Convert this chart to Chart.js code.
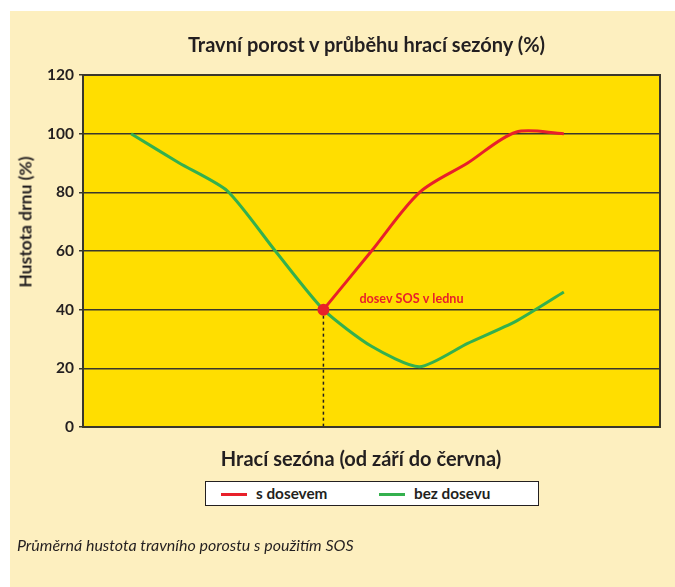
<!DOCTYPE html>
<html>
<head>
<meta charset="utf-8">
<script src="https://cdn.jsdelivr.net/npm/chart.js@4.4.1/dist/chart.umd.min.js"></script>
<style>
  html, body { margin: 0; padding: 0; background: #fff; }
  body { width: 675px; height: 587px; position: relative; overflow: hidden; font-family: Lato, "Open Sans", sans-serif; color: #231f20; }
  #panel { position: absolute; left: 10px; top: 11px; right: 0; bottom: 0; background: #fdefbf; }
  #chart { position: absolute; left: 0; top: 0; }
  .txt { position: absolute; white-space: nowrap; line-height: 1.2; }
  #title { left: 0; width: 733px; top: 32px; text-align: center; font-weight: bold; font-size: 20px; }
  #ytitle { left: 25px; top: 222px; font-weight: bold; font-size: 17.5px; transform: translate(-50%, -50%) rotate(-90deg); }
  #xtitle { left: 0; width: 722px; top: 446px; text-align: center; font-weight: bold; font-size: 20px; }
  #legend { position: absolute; left: 205px; top: 481px; width: 332px; height: 23px; background: #fff; border: 1px solid #231f20; }
  .item { position: absolute; top: 2px; font-weight: bold; font-size: 15.3px; line-height: 1.2; }
  .item i { display: inline-block; width: 26px; height: 3px; vertical-align: middle; margin-right: 9px; position: relative; top: -1px; }
  #caption { left: 17px; top: 535px; font-style: italic; font-size: 16px; }
</style>
</head>
<body>
<div id="panel"></div>
<canvas id="chart" width="675" height="587"></canvas>
<div class="txt" id="title">Travní porost v průběhu hrací sezóny (%)</div>
<div class="txt" id="ytitle">Hustota drnu (%)</div>
<div class="txt" id="xtitle">Hrací sezóna (od září do června)</div>
<div id="legend"></div>
<div class="txt" id="caption">Průměrná hustota travního porostu s použitím SOS</div>
<script>
// months of the season, September to June
const months = ["září", "říjen", "listopad", "prosinec", "leden", "únor", "březen", "duben", "květen", "červen"];
const sDosevem = [null, null, null, null, 40, 60, 80, 90, 100.5, 100];
const bezDosevu = [100, 90, 80.5, 60, 40, 27.5, 20.5, 28.5, 36, 46];
const yTicks = [0, 20, 40, 60, 80, 100, 120];
const seedMonth = 4; // leden
const seedLabel = "dosev SOS v lednu";

const RED = "#e8202a";
const GREEN = "#34b04e";
const INK = "#231f20";

const toPoints = (vals) => months.map((m, i) => ({ x: i, y: vals[i] }));

const decor = {
  id: "decor",
  beforeDraw(chart) {
    const { ctx, chartArea: a } = chart;
    ctx.save();
    ctx.fillStyle = "#ffde00";
    ctx.fillRect(a.left, a.top, a.right - a.left, a.bottom - a.top);
    ctx.restore();
  },
  beforeDatasetsDraw(chart) {
    const { ctx, chartArea: a, scales } = chart;
    const x = scales.x.getPixelForValue(seedMonth);
    const y = scales.y.getPixelForValue(sDosevem[seedMonth]);
    ctx.save();
    ctx.strokeStyle = INK;
    ctx.lineWidth = 1.5;
    ctx.setLineDash([3, 3]);
    ctx.beginPath();
    ctx.moveTo(x, y);
    ctx.lineTo(x, a.bottom);
    ctx.stroke();
    ctx.restore();
  },
  afterDraw(chart) {
    const { ctx, chartArea: a, scales } = chart;
    ctx.save();
    ctx.strokeStyle = "#3a372c";
    ctx.lineWidth = 2;
    ctx.strokeRect(a.left, a.top, a.right - a.left, a.bottom - a.top);
    const x = scales.x.getPixelForValue(seedMonth);
    const y = scales.y.getPixelForValue(sDosevem[seedMonth]);
    ctx.fillStyle = RED;
    ctx.font = "bold 12.6px Lato";
    ctx.textBaseline = "middle";
    ctx.fillText(seedLabel, x + 36, y - 11);
    ctx.restore();
  }
};

const chart = new Chart(document.getElementById("chart"), {
  type: "line",
  data: {
    datasets: [
      {
        label: "s dosevem",
        data: toPoints(sDosevem),
        borderColor: RED,
        backgroundColor: RED,
        borderWidth: 3,
        tension: 0.3,
        pointRadius: months.map((m, i) => (i === seedMonth ? 6 : 0)),
        pointBorderWidth: 0,
        order: 0
      },
      {
        label: "bez dosevu",
        data: toPoints(bezDosevu),
        borderColor: GREEN,
        backgroundColor: GREEN,
        borderWidth: 3,
        tension: 0.22,
        pointRadius: 0,
        order: 1
      }
    ]
  },
  options: {
    responsive: false,
    animation: false,
    layout: { padding: { left: 0, top: 75, right: 15, bottom: 160 } },
    plugins: { legend: { display: false }, tooltip: { enabled: false } },
    scales: {
      x: { type: "linear", min: -1, max: 11, display: false },
      y: {
        min: 0,
        max: 120,
        afterFit: (s) => { s.width = 83; },
        afterBuildTicks: (s) => { s.ticks = yTicks.map((v) => ({ value: v })); },
        ticks: { color: INK, font: { family: "Lato", size: 15.5, weight: "bold" }, padding: 5 },
        grid: { color: "#3a372c", lineWidth: 1.5, tickLength: 4, tickColor: "#3a372c" },
        border: { display: true, color: "#3a372c", width: 2 }
      }
    }
  },
  plugins: [decor]
});

// legend built from the datasets
const legend = document.getElementById("legend");
const lefts = [15, 173];
chart.data.datasets.forEach((ds, i) => {
  const el = document.createElement("div");
  el.className = "item";
  el.style.left = lefts[i] + "px";
  el.innerHTML = '<i style="background:' + ds.borderColor + '"></i>' + ds.label;
  legend.appendChild(el);
});
</script>
</body>
</html>
